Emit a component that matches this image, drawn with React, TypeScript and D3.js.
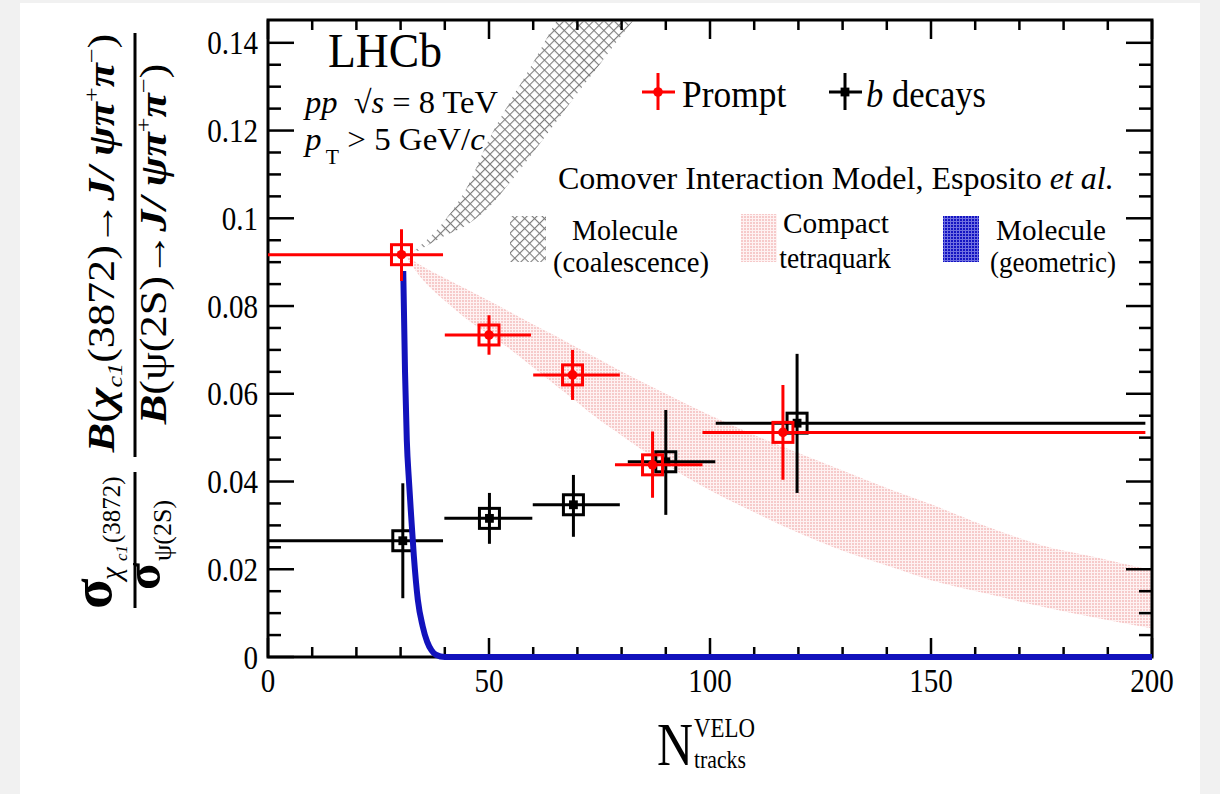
import React, { useRef, useState, useLayoutEffect } from 'react';
import * as d3 from 'd3';

// ---------------- data ----------------
const promptX = [30.2, 50.0, 68.9, 87.0, 116.5];
const promptY = [0.0917, 0.0734, 0.0643, 0.0438, 0.0512];
const promptXLow = [0, 40.0, 60.0, 78.5, 98.3];
const promptXHigh = [39.6, 59.5, 79.6, 98.3, 198.5];
const promptYLow = [0.0857, 0.0689, 0.0586, 0.0363, 0.0404];
const promptYHigh = [0.0975, 0.0779, 0.0700, 0.0514, 0.0620];

const bX = [30.5, 50.1, 69.1, 90.0, 119.7];
const bY = [0.0265, 0.0316, 0.0347, 0.0445, 0.0533];
const bXLow = [0, 39.9, 59.9, 81.4, 101.3];
const bXHigh = [39.6, 59.8, 79.6, 101.2, 198.5];
const bYLow = [0.0134, 0.0258, 0.0274, 0.0324, 0.0374];
const bYHigh = [0.0396, 0.0374, 0.0415, 0.0563, 0.0691];

// Molecule (coalescence) band
const coalX = [33, 40, 45, 50, 55, 60, 65, 70, 75, 80, 85];
const coalHigh = [0.0925, 0.0995, 0.107, 0.118, 0.127, 0.1355, 0.1445, 0.153, 0.162, 0.171, 0.18];
const coalLow = [0.092, 0.096, 0.0985, 0.1025, 0.1085, 0.115, 0.1217, 0.1285, 0.135, 0.1417, 0.148];

// Compact tetraquark band
const tetraX = [31, 35, 40, 45, 50, 55, 60, 65, 70, 75, 80, 85, 90, 95, 100, 110, 120, 130, 141, 150, 162, 175, 187, 200];
const tetraHigh = [0.0917, 0.0890, 0.0864, 0.0838, 0.0812, 0.0785, 0.0758, 0.0732, 0.0705, 0.0678, 0.0651, 0.0625, 0.0600, 0.0575, 0.0551, 0.0506, 0.0465, 0.0425, 0.0381, 0.0348, 0.0300, 0.0255, 0.0228, 0.0198];
const tetraLow = [0.0915, 0.0860, 0.0812, 0.0770, 0.0735, 0.0700, 0.0660, 0.0620, 0.0580, 0.0540, 0.0505, 0.0470, 0.0440, 0.0408, 0.0380, 0.0330, 0.0283, 0.0242, 0.0205, 0.0175, 0.0146, 0.0115, 0.0090, 0.0065];

// Molecule (geometric) curve
const geoX = [30.6, 31.0, 31.4, 31.9, 32.4, 33.0, 33.9, 35.0, 36.0, 37.0, 38.0, 40.0, 60.0, 100.0, 150.0, 200.0];
const geoY = [0.0880, 0.0650, 0.0495, 0.0400, 0.0320, 0.0230, 0.0130, 0.0070, 0.0035, 0.0015, 0.0005, 0.0, 0.0, 0.0, 0.0, 0.0];

const xMajorTicks = [0, 50, 100, 150, 200];
const xTickLabels = ['0', '50', '100', '150', '200'];
const yMajorTicks = [0, 0.02, 0.04, 0.06, 0.08, 0.1, 0.12, 0.14];
const yTickLabels = ['0', '0.02', '0.04', '0.06', '0.08', '0.1', '0.12', '0.14'];

// ---------------- layout ----------------
const FONT = '"Liberation Serif", "Times New Roman", serif';
const L = 268, R = 1152, T = 20, B = 657;
const xScale = d3.scaleLinear().domain([0, 200]).range([L, R]);
const yScale = d3.scaleLinear().domain([0, 0.1452]).range([B, T]);

function Fit({ x, y, w, rotate = 0, anchor = 'start', size, weight = 'normal', children }: any) {
  const ref = useRef<SVGGElement>(null);
  const [s, setS] = useState(1);
  useLayoutEffect(() => {
    if (ref.current) {
      const b = ref.current.getBBox();
      if (b.width > 0) setS(w / b.width);
    }
  }, [w]);
  return (
    <g transform={`translate(${x},${y}) rotate(${rotate}) scale(${s},1)`}>
      <g ref={ref}>
        <text x={0} y={0} textAnchor={anchor} fontSize={size} fontWeight={weight} fontFamily={FONT} fill="#000">
          {children}
        </text>
      </g>
    </g>
  );
}

function Points({ xs, ys, xl, xh, yl, yh, color, kind }: any) {
  return (
    <g>
      {xs.map((xv: number, i: number) => {
        const cx = xScale(xv), cy = yScale(ys[i]);
        return (
          <g key={i}>
            <line x1={xScale(xl[i])} x2={xScale(xh[i])} y1={cy} y2={cy} stroke={color} strokeWidth={3} />
            <line x1={cx} x2={cx} y1={yScale(yl[i])} y2={yScale(yh[i])} stroke={color} strokeWidth={3} />
            <rect x={cx - 10} y={cy - 10} width={20} height={20} fill="none" stroke={color} strokeWidth={3} />
            {kind === 'circle' ? (
              <circle cx={cx} cy={cy} r={4.8} fill={color} />
            ) : (
              <rect x={cx - 4.4} y={cy - 4.4} width={8.8} height={8.8} fill={color} />
            )}
          </g>
        );
      })}
    </g>
  );
}

export default function App() {
  const xMinor = xScale.ticks(20);
  const yMinor = yScale.ticks(30).filter((v) => v < 0.1445);

  const tetraArea = d3
    .area<number>()
    .x((d) => xScale(d))
    .y0((d, i) => yScale(tetraLow[i]))
    .y1((d, i) => yScale(tetraHigh[i]))
    .curve(d3.curveMonotoneX);
  const coalArea = d3
    .area<number>()
    .x((d) => xScale(d))
    .y0((d, i) => yScale(coalLow[i]))
    .y1((d, i) => yScale(coalHigh[i]))
    .curve(d3.curveMonotoneX);
  const geoLine = d3
    .line<number>()
    .x((d) => xScale(d))
    .y((d, i) => yScale(geoY[i]))
    .curve(d3.curveMonotoneX);

  return (
    <div style={{ position: 'absolute', left: 0, top: 0 }}>
      <svg width={1220} height={794} style={{ display: 'block' }}>
        <defs>
          <clipPath id="plotClip">
            <rect x={L + 1.5} y={T + 1.5} width={R - L - 3} height={B - T - 3} />
          </clipPath>
          <pattern id="hatchGray" width={7} height={7} patternUnits="userSpaceOnUse" patternTransform="rotate(45)">
            <rect width={7} height={7} fill="#ffffff" />
            <line x1={0} y1={0} x2={0} y2={7} stroke="#7c7c7c" strokeWidth={2.2} />
            <line x1={0} y1={0} x2={7} y2={0} stroke="#7c7c7c" strokeWidth={2.2} />
          </pattern>
          <pattern id="dotPink" width={3} height={3} patternUnits="userSpaceOnUse">
            <rect width={3} height={3} fill="#fef2f2" />
            <rect width={2} height={2} fill="#f6caca" />
          </pattern>
          <pattern id="dotBlue" width={3} height={3} patternUnits="userSpaceOnUse">
            <rect width={3} height={3} fill="#7070e0" />
            <rect width={2} height={2} fill="#1414c2" />
          </pattern>
        </defs>

        {/* page background */}
        <rect x={0} y={0} width={1220} height={794} fill="#f1f1f1" />
        <rect x={20} y={3} width={1180} height={800} fill="#ffffff" />

        {/* bands */}
        <g clipPath="url(#plotClip)">
          <path d={tetraArea(tetraX) || ''} fill="url(#dotPink)" />
          <path d={coalArea(coalX) || ''} fill="url(#hatchGray)" />
        </g>

        {/* frame */}
        <rect x={L} y={T} width={R - L} height={B - T} fill="none" stroke="#000" strokeWidth={3} />
        {xMinor.map((v) => {
          const major = xMajorTicks.includes(v);
          const len = major ? 19 : 10;
          return (
            <g key={'xt' + v}>
              <line x1={xScale(v)} x2={xScale(v)} y1={B} y2={B - len} stroke="#000" strokeWidth={2.5} />
              <line x1={xScale(v)} x2={xScale(v)} y1={T} y2={T + len} stroke="#000" strokeWidth={2.5} />
            </g>
          );
        })}
        {yMinor.map((v) => {
          const major = yMajorTicks.some((m) => Math.abs(m - v) < 1e-6);
          const len = major ? 26 : 13;
          return (
            <g key={'yt' + v}>
              <line x1={L} x2={L + len} y1={yScale(v)} y2={yScale(v)} stroke="#000" strokeWidth={2.5} />
              <line x1={R} x2={R - len} y1={yScale(v)} y2={yScale(v)} stroke="#000" strokeWidth={2.5} />
            </g>
          );
        })}

        {/* tick labels */}
        {xMajorTicks.map((v, i) => (
          <g key={'xl' + v} transform={`translate(${xScale(v)},692) scale(0.88,1)`}>
            <text textAnchor="middle" fontSize={33} fontFamily={FONT}>{xTickLabels[i]}</text>
          </g>
        ))}
        {yMajorTicks.map((v, i) => (
          <g key={'yl' + v} transform={`translate(258,${yScale(v) + 11.5})`}>
            <g transform="scale(0.88,1)">
              <text textAnchor="end" fontSize={33} fontFamily={FONT}>{yTickLabels[i]}</text>
            </g>
          </g>
        ))}

        {/* data */}
        <Points xs={bX} ys={bY} xl={bXLow} xh={bXHigh} yl={bYLow} yh={bYHigh} color="#000000" kind="square" />
        <path d={geoLine(geoX) || ''} fill="none" stroke="#1212bc" strokeWidth={6} strokeLinejoin="round" />
        <Points xs={promptX} ys={promptY} xl={promptXLow} xh={promptXHigh} yl={promptYLow} yh={promptYHigh} color="#ff0000" kind="circle" />

        {/* LHCb labels */}
        <Fit x={328} y={67} w={114} size={49}>LHCb</Fit>
        <Fit x={305} y={113} w={195} size={32}>
          <tspan fontStyle="italic">pp</tspan>
          <tspan>{'\u2002\u221A'}</tspan>
          <tspan fontStyle="italic">s</tspan>
          <tspan>{' = 8 TeV'}</tspan>
        </Fit>
        <Fit x={305} y={150} w={182} size={32}>
          <tspan fontStyle="italic">p</tspan>
          <tspan fontSize={21} dy={14}>{'\u2009T'}</tspan>
          <tspan dy={-14}>{' > 5 GeV/'}</tspan>
          <tspan fontStyle="italic">c</tspan>
        </Fit>

        {/* top legend */}
        <line x1={642} x2={675} y1={92} y2={92} stroke="#ff0000" strokeWidth={3} />
        <line x1={658} x2={658} y1={73} y2={110} stroke="#ff0000" strokeWidth={3} />
        <circle cx={658} cy={92} r={4.8} fill="#ff0000" />
        <Fit x={682} y={107} w={105} size={37}>Prompt</Fit>
        <line x1={829} x2={862} y1={92} y2={92} stroke="#000" strokeWidth={3} />
        <line x1={845} x2={845} y1={73} y2={110} stroke="#000" strokeWidth={3} />
        <rect x={840.6} y={87.6} width={8.8} height={8.8} fill="#000" />
        <Fit x={866} y={107} w={120} size={37}>
          <tspan fontStyle="italic">b</tspan>
          <tspan>{' decays'}</tspan>
        </Fit>

        {/* model legend */}
        <Fit x={558} y={189} w={556} size={32}>
          <tspan>{'Comover Interaction Model, Esposito '}</tspan>
          <tspan fontStyle="italic">et al.</tspan>
        </Fit>
        <rect x={510} y={216} width={36} height={46} fill="url(#hatchGray)" />
        <rect x={741} y={214} width={36} height={48} fill="url(#dotPink)" />
        <rect x={943} y={216} width={36} height={46} fill="url(#dotBlue)" />
        <Fit x={625} y={240} w={106} size={29} anchor="middle">Molecule</Fit>
        <Fit x={631} y={272} w={156} size={29} anchor="middle">(coalescence)</Fit>
        <Fit x={836} y={233} w={106} size={29} anchor="middle">Compact</Fit>
        <Fit x={835} y={268} w={112} size={29} anchor="middle">tetraquark</Fit>
        <Fit x={1051} y={240} w={110} size={29} anchor="middle">Molecule</Fit>
        <Fit x={1053} y={272} w={126} size={29} anchor="middle">(geometric)</Fit>

        {/* x axis title */}
        <Fit x={657} y={765} w={36} size={62}>N</Fit>
        <Fit x={694} y={737} w={61} size={27}>VELO</Fit>
        <Fit x={694} y={768} w={52} size={26}>tracks</Fit>

        {/* y axis title: B fraction */}
        <Fit x={114} y={243} w={420} size={37} rotate={-90} anchor="middle">
          <tspan fontStyle="italic" fontWeight="bold">B</tspan>
          <tspan>(</tspan>
          <tspan fontStyle="italic" fontWeight="bold">{'\u03C7'}</tspan>
          <tspan fontSize={22} fontStyle="italic" dy={8}>c1</tspan>
          <tspan dy={-8}>(3872)→</tspan>
          <tspan fontStyle="italic" fontWeight="bold">{'J/ \u03C8\u03C0'}</tspan>
          <tspan fontSize={22} dy={-15}>+</tspan>
          <tspan fontStyle="italic" fontWeight="bold" dy={15}>{'\u03C0'}</tspan>
          <tspan fontSize={22} dy={-15}>{'\u2212'}</tspan>
          <tspan dy={15}>)</tspan>
        </Fit>
        <line x1={135} x2={135} y1={33} y2={457} stroke="#000" strokeWidth={3} />
        <Fit x={166} y={244} w={362} size={37} rotate={-90} anchor="middle">
          <tspan fontStyle="italic" fontWeight="bold">B</tspan>
          <tspan>{'(\u03C8(2S)→'}</tspan>
          <tspan fontStyle="italic" fontWeight="bold">{'J/ \u03C8\u03C0'}</tspan>
          <tspan fontSize={22} dy={-15}>+</tspan>
          <tspan fontStyle="italic" fontWeight="bold" dy={15}>{'\u03C0'}</tspan>
          <tspan fontSize={22} dy={-15}>{'\u2212'}</tspan>
          <tspan dy={15}>)</tspan>
        </Fit>

        {/* y axis title: sigma fraction */}
        <g transform="rotate(-90)" fontFamily={FONT} fill="#000">
          <text x={-609} y={111} fontSize={56} fontWeight="bold">{'\u03C3'}</text>
          <text x={-580} y={121} fontSize={29} fontStyle="italic">{'\u03C7'}</text>
          <text x={-561} y={127} fontSize={17} fontStyle="italic">c1</text>
          <text x={-543} y={120} fontSize={25}>(3872)</text>
          <text x={-590} y={160} fontSize={50} fontWeight="bold">{'\u03C3'}</text>
          <text x={-561} y={171} fontSize={26}>{'\u03C8(2S)'}</text>
        </g>
        <line x1={135} x2={135} y1={472} y2={608} stroke="#000" strokeWidth={3} />
      </svg>
    </div>
  );
}
